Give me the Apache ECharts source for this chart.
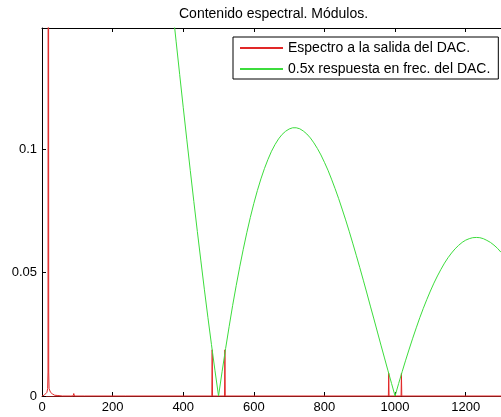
<!DOCTYPE html>
<html>
<head>
<meta charset="utf-8">
<script src="https://cdn.jsdelivr.net/npm/echarts@6/dist/echarts.min.js"></script>
<style>
  html, body { margin: 0; padding: 0; background: #fff; }
  #chart { width: 501px; height: 417px; }
</style>
</head>
<body>
<div id="chart"></div>
<script>
// Espectro a la salida del DAC (frecuencia, módulo)
const freqRed = [0, 6, 10, 14, 16, 17, 18, 19, 20, 24, 30, 36, 45, 58, 60, 62, 80, 88, 90, 92, 120, 236, 238, 240, 400,
  481, 482, 483, 517, 518, 519, 700, 981, 982, 983, 1017, 1018, 1019, 1300];
const specRed = [0, 0.0003, 0.0008, 0.0015, 0.003, 0.0097, 0.499, 0.0097, 0.003, 0.0015, 0.0008, 0.0003, 0.0002, 0, 0.0007, 0, 0, 0, 0.001, 0, 0, 0, 0.0004, 0, 0,
  0, 0.0187, 0, 0, 0.0187, 0, 0, 0, 0.0092, 0, 0, 0.0092, 0, 0];

// 0.5x respuesta en frecuencia del DAC
const freqGreen = [300, 320, 340, 350, 360, 370, 380, 390, 400, 410, 420, 430, 440, 450, 460, 470, 480, 490, 500,
  510, 520, 530, 540, 550, 560, 570, 580, 590, 600, 610, 620, 630, 640, 650, 660, 670, 680, 690, 700,
  710, 720, 730, 740, 750, 760, 770, 780, 790, 800, 810, 820, 830, 840, 850, 860, 870, 880, 890, 900,
  910, 920, 930, 940, 950, 960, 970, 980, 990, 1000, 1010, 1020, 1030, 1040, 1050, 1060, 1070, 1080, 1090, 1100,
  1110, 1120, 1130, 1140, 1150, 1160, 1170, 1180, 1190, 1200, 1210, 1220, 1230, 1240, 1250, 1260, 1270, 1280, 1290, 1300];
const respGreen = [0.2523, 0.2250, 0.1976, 0.1839, 0.1703, 0.1568, 0.1434, 0.1301, 0.1169, 0.1040, 0.0913, 0.0788, 0.0666, 0.0547, 0.0430, 0.0317, 0.0208, 0.0102, 0,
  0.0098, 0.0192, 0.0281, 0.0367, 0.0447, 0.0523, 0.0594, 0.0661, 0.0723, 0.0780, 0.0832, 0.0879, 0.0921, 0.0958, 0.0991, 0.1018, 0.1041, 0.1059, 0.1072, 0.1081,
  0.1086, 0.1086, 0.1082, 0.1073, 0.1061, 0.1045, 0.1025, 0.1002, 0.0976, 0.0946, 0.0914, 0.0878, 0.0840, 0.0800, 0.0757, 0.0713, 0.0667, 0.0619, 0.0570, 0.0520,
  0.0469, 0.0417, 0.0364, 0.0312, 0.0259, 0.0206, 0.0154, 0.0102, 0.0051, 0, 0.0050, 0.0098, 0.0145, 0.0190, 0.0234, 0.0276, 0.0317, 0.0355, 0.0391, 0.0425,
  0.0457, 0.0486, 0.0513, 0.0538, 0.0560, 0.0579, 0.0596, 0.0610, 0.0622, 0.0631, 0.0637, 0.0641, 0.0642, 0.0641, 0.0637, 0.0630, 0.0622, 0.0611, 0.0598, 0.0582];

const xTicks = { min: 0, max: 1300, interval: 200 };
const yTicks = { min: 0, max: 0.149, interval: 0.05 };

const fontFamily = '"Liberation Sans", Arial, sans-serif';
const redColor = 'rgb(225, 40, 40)';
const greenColor = 'rgb(60, 220, 60)';

function pairs(xs, ys) {
  return xs.map((x, i) => [x, ys[i]]);
}

function makeXAxis(position, showLabels, lineColor) {
  return {
    type: 'value',
    position: position,
    min: xTicks.min,
    max: xTicks.max,
    interval: xTicks.interval,
    axisLine: { show: true, onZero: false, lineStyle: { color: lineColor, width: 1 } },
    axisTick: { show: true, inside: true, length: 4, lineStyle: { color: '#000' } },
    axisLabel: {
      show: showLabels, color: '#000', fontSize: 13, fontFamily: fontFamily,
      margin: 5, showMaxLabel: false,
      formatter: (v) => String(v)
    },
    splitLine: { show: false }
  };
}

const chart = echarts.init(document.getElementById('chart'));

chart.setOption({
  animation: false,
  backgroundColor: '#fff',
  title: {
    text: 'Contenido espectral. Módulos.',
    left: 179,
    top: 7,
    padding: 0,
    textStyle: { color: '#000', fontSize: 14, fontWeight: 'normal', fontFamily: fontFamily }
  },
  grid: { left: 42, right: -6, top: 28, bottom: 21, containLabel: false },
  legend: {
    orient: 'vertical',
    left: 233,
    top: 37,
    padding: [4, 8, 3, 7],
    itemGap: 7,
    itemWidth: 43,
    itemHeight: 2,
    icon: 'rect',
    backgroundColor: '#fff',
    borderColor: '#000',
    borderWidth: 1,
    borderRadius: 0,
    textStyle: { color: '#000', fontSize: 14, fontFamily: fontFamily },
    data: ['Espectro a la salida del DAC.', '0.5x respuesta en frec. del DAC.']
  },
  xAxis: [makeXAxis('bottom', true, 'rgb(120, 20, 20)'), makeXAxis('top', false, '#000')],
  yAxis: {
    type: 'value',
    position: 'left',
    min: yTicks.min,
    max: yTicks.max,
    interval: yTicks.interval,
    axisLine: { show: true, onZero: false, lineStyle: { color: '#000', width: 1 } },
    axisTick: { show: true, inside: true, length: 4, lineStyle: { color: '#000' } },
    axisLabel: {
      color: '#000', fontSize: 13, fontFamily: fontFamily,
      margin: 5, showMaxLabel: false
    },
    splitLine: { show: false }
  },
  series: [
    {
      name: 'Espectro a la salida del DAC.',
      type: 'line',
      data: pairs(freqRed, specRed),
      symbol: 'none',
      clip: true,
      z: 3,
      color: redColor,
      lineStyle: { color: redColor, width: 1 }
    },
    {
      name: '0.5x respuesta en frec. del DAC.',
      type: 'line',
      data: pairs(freqGreen, respGreen),
      symbol: 'none',
      clip: true,
      color: greenColor,
      lineStyle: { color: greenColor, width: 1 }
    }
  ]
});
</script>
</body>
</html>
